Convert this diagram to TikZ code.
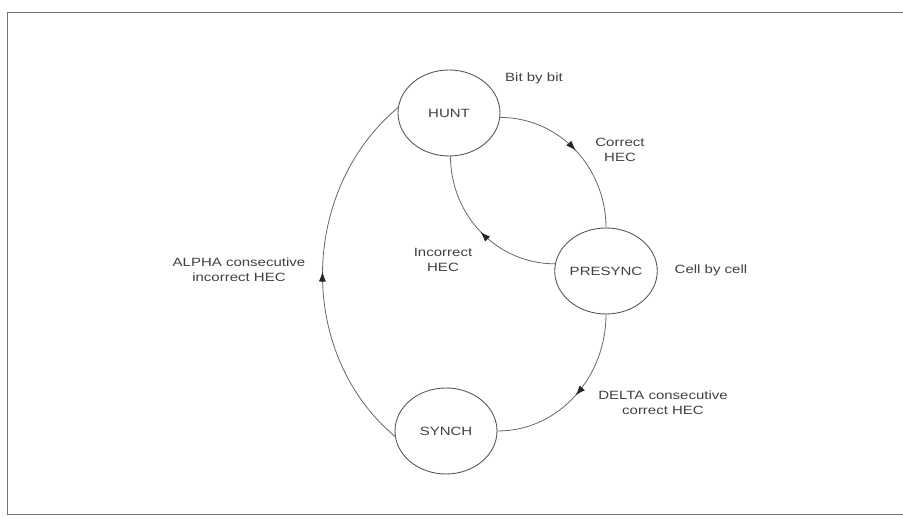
\documentclass[tikz,border=0pt]{standalone}
\usepackage{fontspec}
\newfontfamily\diagfont[FakeStretch=1.25]{Liberation Sans}
\usetikzlibrary{shapes.geometric,arrows.meta,decorations.markings}

\begin{document}
\begin{tikzpicture}[x=1pt,y=1pt,
  state/.style={draw=black!65,line width=0.9pt,ellipse,minimum width=102pt,minimum height=86pt,inner sep=0pt,text=black!75,font=\diagfont\fontsize{12}{15}\selectfont},
  lbl/.style={align=center,text=black!75,font=\diagfont\fontsize{12}{15}\selectfont},
  trans/.style={draw=black!60,line width=0.8pt,postaction={decorate},
    decoration={markings,mark=at position 0.5 with {\arrow{Latex[length=10pt,width=7pt,color=black!85]}}}}]

\useasboundingbox (0,0) rectangle (903,518);

% -- frame
\draw[black!55,line width=1pt] (903,505) -- (7,505) -- (7,3) -- (903,3);

% -- states
\node[state] (hunt) at (449,405) {HUNT};
\node[state] (presync) at (606,247) {PRESYNC};
\node[state] (synch) at (446,87) {SYNCH};

% -- labels
\node[lbl] (bitlbl) at (534,440) {Bit by bit};
\node[lbl] (corrlbl) at (620,368) {Correct\\HEC};
\node[lbl] (incorrlbl) at (443,258) {Incorrect\\HEC};
\node[lbl] (celllbl) at (711,248) {Cell by cell};
\node[lbl] (alphalbl) at (239,248) {ALPHA consecutive\\incorrect HEC};
\node[lbl] (deltalbl) at (663,115) {DELTA consecutive\\correct HEC};

% -- draw arrows
\draw[trans] (hunt.-5) to[out=0,in=90] (presync.north);
\draw[trans] (presync.172) to[out=180,in=-90] (hunt.-88);
\draw[trans] (presync.south) to[out=-90,in=0] (synch.east);
\draw[trans] (synch.186) to[out=140,in=220,looseness=1.0] (hunt.174);
\end{tikzpicture}
\end{document}
